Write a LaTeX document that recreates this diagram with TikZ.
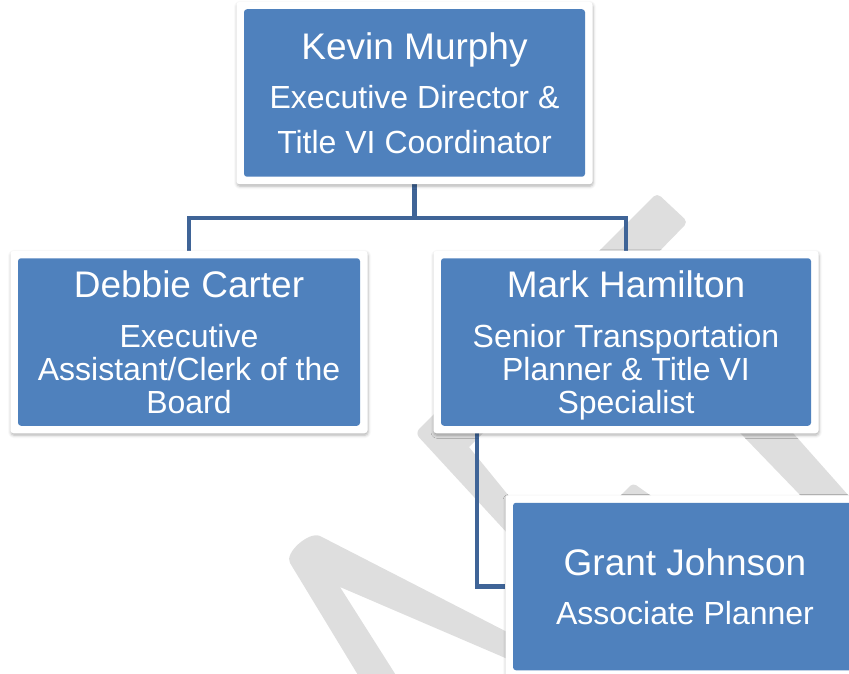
\documentclass[tikz,border=0pt]{standalone}
\usepackage{fontspec}
\setmainfont{Liberation Sans}
\usetikzlibrary{shadows.blur}
\definecolor{boxblue}{HTML}{4F81BD}
\definecolor{linkblue}{HTML}{3F6497}
\definecolor{wmgray}{HTML}{DEDEDE}
\newcommand{\namefont}{\fontsize{37}{40}\selectfont}
\newcommand{\rolefont}{\fontsize{32}{33}\selectfont}
\pgfdeclarelayer{wmlayer}
\pgfdeclarelayer{linklayer}
\pgfsetlayers{wmlayer,linklayer,main}

\begin{document}
\begin{tikzpicture}[x=1pt, y=-1pt,
    person/.style={fill=white, rounded corners=3pt, text=white, font=\rolefont,
      align=center, inner sep=0pt, text depth=0pt, minimum height=182.5pt,
      path picture={\fill[boxblue]
        ([xshift=7.5pt,yshift=-7.5pt]path picture bounding box.north west) rectangle
        ([xshift=-7.5pt,yshift=7.5pt]path picture bounding box.south east);},
      blur shadow={shadow xshift=0.5pt, shadow yshift=-2pt, shadow blur radius=3pt, shadow opacity=30}},
    link/.style={draw=linkblue, line width=4.5pt},
    wm/.style={fill=wmgray}
  ]
  \useasboundingbox (0,0) rectangle (849,674);

  % staff boxes
  \node[person, minimum width=356pt] (kevin) at (414.5,93)
    {{\namefont Kevin Murphy}\\[16.5pt]Executive Director \&\\[12pt]Title VI Coordinator};
  \node[person, minimum width=357pt] (debbie) at (189,342)
    {{\namefont Debbie Carter}\\[16.5pt]Executive\\Assistant/Clerk of the\\Board};
  \node[person, minimum width=385pt] (mark) at (626,342)
    {{\namefont Mark Hamilton}\\[16.5pt]Senior Transportation\\Planner \& Title VI\\Specialist};
  \node[person, minimum width=359pt] (grant) at (685,586.5)
    {{\namefont Grant Johnson}\\[16.5pt]Associate Planner};

  % reporting lines
  \begin{pgfonlayer}{linklayer}
    \draw[link] (kevin.south) -- ++(0,33.5) -| (debbie.north);
    \draw[link] (kevin.south) -- ++(0,33.5) -| (mark.north);
    \draw[link] ([xshift=43.5pt]mark.south west) |- (grant.west);
  \end{pgfonlayer}

  % watermark letters
  \begin{pgfonlayer}{wmlayer}
    \begin{scope}
      \clip (0,0) rectangle (849,674);
      \fill[wm] (361,680) -- (290,563) .. controls (284,553) and (309,531) .. (320,536)
        -- (520,638.6) -- (520,664.3) -- (340,587) -- (399,680) -- cycle;
      \fill[wm] (532,560) [rounded corners=6pt] -- (415,433) [sharp corners] -- (480,368)
        -- (507,409) -- (469,447) -- (561,560) -- cycle;
      \fill[wm, rounded corners=4pt] (600,516) -- (633,483) -- (667,507) -- (634,541) -- cycle;
      \fill[wm, rounded corners=5pt] (560,290) -- (657,193) -- (688,222) -- (600,312) -- cycle;
      \fill[wm] (689,380) -- (746,380) -- (1030,700) -- (998,700) -- cycle;
    \end{scope}
  \end{pgfonlayer}
\end{tikzpicture}
\end{document}
